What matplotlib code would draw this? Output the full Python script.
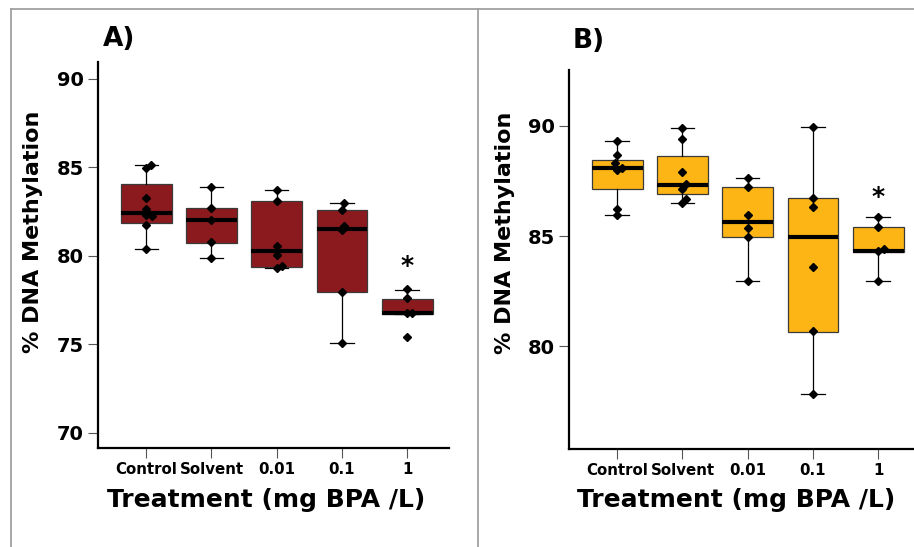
import matplotlib
matplotlib.use('Agg')
import matplotlib.pyplot as plt
import matplotlib.lines as lines

plt.rcParams['font.family'] = ['DejaVu Sans']
plt.rcParams['font.weight'] = 'bold'

groups = ['Control', 'Solvent', '0.01', '0.1', '1']

# panel A - box statistics
a_whishi = [85.12, 83.88, 83.71, 83.00, 78.08]
a_q3 = [84.09, 82.71, 83.09, 82.60, 77.59]
a_med = [82.45, 82.03, 80.30, 81.54, 76.80]
a_q1 = [81.88, 80.72, 79.40, 77.95, 76.72]
a_whislo = [80.38, 79.87, 79.34, 75.10, 76.72]
a_points = [
    [85.16, 84.99, 83.28, 82.64, 82.32, 82.26, 81.75, 80.38],
    [83.88, 82.69, 82.03, 80.77, 79.87],
    [83.71, 83.11, 80.58, 80.06, 79.30, 79.45],
    [83.00, 82.60, 81.71, 81.47, 77.95, 75.10],
    [78.12, 77.60, 76.80, 76.80, 75.44],
]
a_jitter = [
    [0.08, 0, 0, 0, 0, 0.09, 0, 0],
    [0, 0, 0, 0, 0],
    [0, 0, 0, 0, 0, 0.08],
    [0.03, 0, 0.03, 0, 0, 0],
    [0, 0, 0, 0.08, 0],
]

# panel B
b_whishi = [89.32, 89.89, 87.64, 89.97, 85.89]
b_q3 = [88.46, 88.64, 87.22, 86.73, 85.43]
b_med = [88.08, 87.34, 85.66, 84.95, 84.34]
b_q1 = [87.13, 86.93, 84.98, 80.65, 84.30]
b_whislo = [85.95, 86.49, 82.97, 77.82, 82.97]
b_points = [
    [89.32, 88.68, 88.31, 88.00, 88.10, 86.25, 85.95],
    [89.89, 89.39, 87.90, 87.38, 87.16, 86.69, 86.49],
    [87.64, 87.23, 85.96, 85.36, 84.98, 82.97],
    [89.97, 86.75, 86.34, 83.59, 80.68, 77.82],
    [85.89, 85.43, 84.34, 84.40, 82.97],
]
b_jitter = [
    [0, 0, -0.04, 0, 0.08, 0, 0],
    [0, 0, 0, 0.06, 0, 0.06, 0],
    [0, 0, 0, 0, 0, 0],
    [0, 0, 0, 0, 0, 0],
    [0, 0, 0, 0.09, 0],
]

star_a = 79.45
star_b = 86.79


def panel(ax, whishi, q3, med, q1, whislo, points, jitter, color, ylim, yticks, star,
          ylab_xy, xlab_xy):
    stats = []
    for i in range(len(groups)):
        stats.append(dict(whishi=whishi[i], q3=q3[i], med=med[i], q1=q1[i],
                          whislo=whislo[i], fliers=[]))
    ax.bxp(stats, positions=range(len(groups)), widths=0.78, capwidths=0.36,
           patch_artist=True, showfliers=False,
           boxprops=dict(facecolor=color, edgecolor='#3a3a3a', linewidth=0.9),
           medianprops=dict(color='black', linewidth=3),
           whiskerprops=dict(color='black', linewidth=0.9),
           capprops=dict(color='black', linewidth=0.9))
    for i, pts in enumerate(points):
        xs = [i + j for j in jitter[i]]
        ax.plot(xs, pts, 'D', color='black', markersize=4, zorder=5)
    ax.text(4, star, '*', ha='center', va='center', fontsize=18, fontweight='bold')
    ax.set_xlim(-0.74, 4.64)
    ax.set_ylim(*ylim)
    ax.set_yticks(yticks)
    ax.set_xticks(range(len(groups)))
    ax.set_xticklabels(groups, fontsize=10.8, fontweight='bold')
    for lab in ax.get_yticklabels():
        lab.set_fontsize(14)
        lab.set_fontweight('bold')
    for s in ['top', 'right']:
        ax.spines[s].set_visible(False)
    for s in ['left', 'bottom']:
        ax.spines[s].set_linewidth(1.6)
    ax.tick_params(axis='both', length=7, width=0.8, color='#555555', pad=3)
    ax.set_ylabel('% DNA Methylation', fontsize=16, fontweight='bold', va='center')
    ax.set_xlabel('Treatment (mg BPA /L)', fontsize=18, fontweight='bold', va='center')
    ax.yaxis.set_label_coords(*ylab_xy)
    ax.xaxis.set_label_coords(*xlab_xy)


fig = plt.figure(figsize=(9.14, 5.47), dpi=100)
ax1 = fig.add_axes([0.1072, 0.181, 0.384, 0.7057])
ax2 = fig.add_axes([0.6225, 0.179, 0.384, 0.693])

panel(ax1, a_whishi, a_q3, a_med, a_q1, a_whislo, a_points, a_jitter,
      '#8b1a1e', (69.15, 90.96), [70, 75, 80, 85, 90], star_a,
      (-0.185, 0.56), (0.479, -0.135))
panel(ax2, b_whishi, b_q3, b_med, b_q1, b_whislo, b_points, b_jitter,
      '#fdb515', (75.34, 92.54), [80, 85, 90], star_b,
      (-0.182, 0.57), (0.476, -0.135))

fig.text(0.1127, 0.929, 'A)', fontsize=19, fontweight='bold', va='center')
fig.text(0.627, 0.925, 'B)', fontsize=19, fontweight='bold', va='center')

# grey frame lines
fig.add_artist(lines.Line2D([0.012, 1], [0.983, 0.983], color='#a0a0a0', lw=1.3))
fig.add_artist(lines.Line2D([0.012, 0.012], [0, 0.983], color='#a0a0a0', lw=1.3))
fig.add_artist(lines.Line2D([0.523, 0.523], [0, 0.983], color='#a0a0a0', lw=1.3))

fig.savefig('out.png', dpi=100)
